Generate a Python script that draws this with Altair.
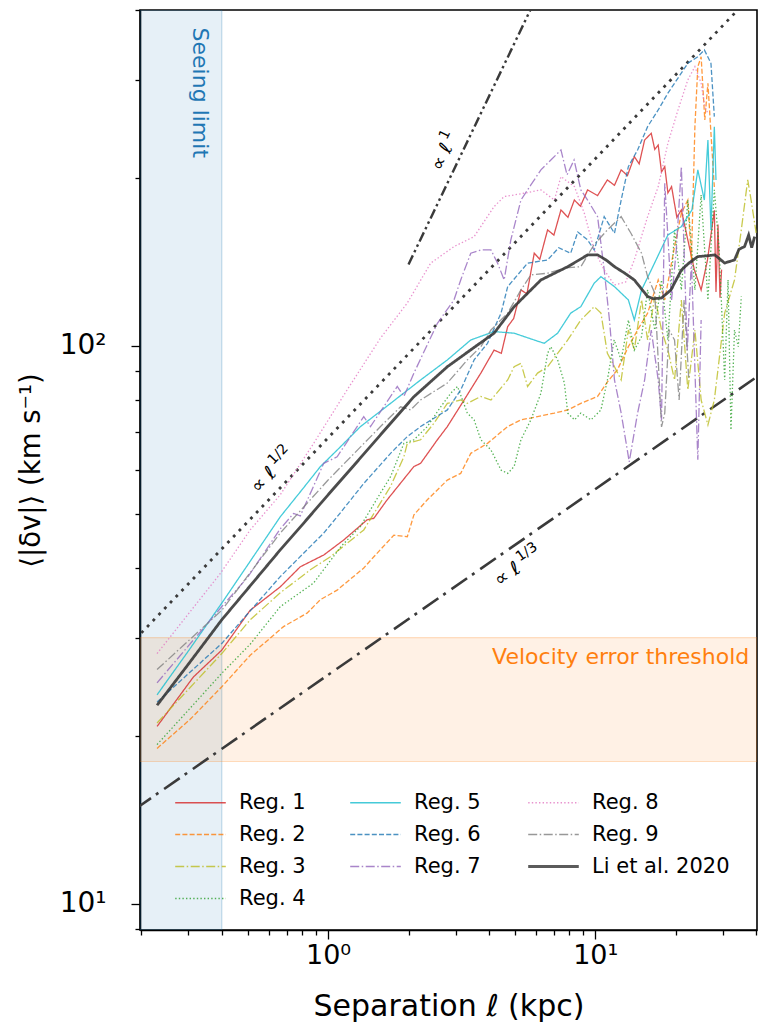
import altair as alt
import pandas as pd

# ---------------- axis ranges / ticks ----------------
X_DOMAIN = [0.1977, 40.3]
Y_DOMAIN = [8.98, 400.0]
X_TICKS = [0.2, 0.3, 0.4, 0.5, 0.6, 0.7, 0.8, 0.9, 1, 2, 3, 4, 5, 6, 7, 8, 9, 10, 20, 30, 40]
Y_TICKS = [9, 10, 20, 30, 40, 50, 60, 70, 80, 90, 100, 200, 300, 400]

# ---------------- series (separation kpc, <|dv|> km/s) ----------------
REG1_X = [0.229, 0.313, 0.4, 0.511, 0.662, 0.787, 0.963, 1.144, 1.4, 1.483, 1.664, 2.095, 2.219, 2.565, 2.795,
          3.228, 3.73, 4.18, 4.45, 4.7, 4.95, 5.27, 5.55, 5.91, 6.2, 6.63, 7.0, 7.44, 7.9, 8.35, 8.8, 9.36, 10.2,
          11.1, 11.8, 12.5, 13.2, 14.0, 14.6, 15.3, 16.2, 16.7, 17.2, 17.7, 18.2, 18.7, 19.3, 20.2, 21.0, 22.2,
          23.5, 24.9, 26.3, 27.9, 28.3, 28.8, 29.3, 29.7]
REG1_Y = [20.8, 25.5, 28.5, 33.6, 37.0, 40.2, 42.2, 44.9, 48.8, 49.1, 53.0, 60.8, 61.6, 67.9, 71.7,
          80.0, 89.4, 98.3, 97.0, 108.3, 112.0, 126.0, 124.0, 146.6, 143.0, 161.4, 158.0, 175.3, 170.0, 182.6, 178.0, 190.4, 186.0,
          198.4, 194.0, 206.8, 202.0, 218.4, 212.0, 233.9, 240.5, 225.0, 229.1, 205.0, 209.6, 188.0, 193.0, 170.0, 175.3, 154.9,
          136.8, 126.0, 142.6, 175.0, 125.0, 165.0, 122.0, 137.0]

REG2_X = [0.229, 0.304, 0.4, 0.511, 0.681, 0.834, 0.936, 1.081, 1.36, 1.483, 1.763, 1.979, 2.095, 2.352, 2.795,
          3.136, 3.42, 3.95, 4.7, 5.27, 6.08, 7.03, 7.89, 8.83, 10.2, 11.1, 12.1, 13.3, 14.4, 15.7, 17.2, 18.2,
          19.8, 21.0, 22.2, 22.9, 23.6, 24.2, 24.9, 25.7, 26.4, 27.1, 27.9]
REG2_Y = [19.0, 21.4, 24.5, 27.9, 31.4, 33.2, 35.1, 36.5, 40.0, 41.9, 45.8, 45.5, 49.8, 53.0, 57.5,
          59.1, 64.2, 66.9, 71.7, 73.7, 74.7, 75.8, 76.8, 78.9, 81.2, 86.2, 90.6, 99.7, 106.8, 114.5, 131.3, 120.9,
          150.7, 172.9, 182.6, 142.6, 247.2, 316.6, 329.9, 254.1, 295.6, 240.5, 192.7]

REG3_X = [0.229, 0.4, 0.511, 0.662, 0.858, 1.02, 1.36, 1.713, 1.922, 1.979, 2.219, 2.49, 2.795, 3.136, 3.32,
          3.73, 4.07, 4.7, 4.97, 5.27, 5.58, 6.08, 6.63, 7.23, 7.89, 8.83, 9.91, 10.5, 11.1, 11.8, 12.5, 13.3,
          14.0, 14.9, 15.7, 16.7, 17.7, 18.7, 19.8, 21.0, 22.2, 23.6, 24.9, 26.4, 27.9, 30.5, 33.2, 35.2, 37.2,
          38.3, 40.0]
REG3_Y = [21.1, 28.1, 32.3, 36.1, 39.7, 41.9, 46.8, 56.0, 63.3, 66.9, 67.9, 72.7, 78.9, 80.0, 78.9,
          81.2, 80.0, 86.9, 91.8, 93.1, 84.6, 89.4, 91.8, 97.0, 102.5, 111.3, 117.6, 114.5, 97.0, 91.8, 86.9, 106.8,
          98.3, 120.9, 102.5, 122.6, 106.8, 98.3, 86.9, 120.9, 83.4, 106.8, 80.0, 72.2, 80.0, 114.5, 131.3, 161.4, 198.4,
          182.6, 159.4]

REG4_X = [0.229, 0.4, 0.511, 0.662, 0.883, 1.117, 1.322, 1.571, 1.713, 1.922, 2.095, 2.352, 2.64, 2.88, 3.05,
          3.32, 3.52, 3.73, 4.07, 4.44, 4.7, 4.97, 5.27, 5.74, 6.26, 6.63, 6.82, 7.23, 7.66, 7.89, 8.36, 8.83,
          9.64, 10.5, 11.1, 11.77, 12.5, 13.3, 14.0, 14.9, 15.7, 16.7, 17.7, 18.7, 19.8, 21.0, 22.2, 23.6, 24.9,
          26.4, 27.9, 29.1, 30.5, 31.4, 32.2, 33.2, 34.3, 35.2]
REG4_Y = [19.3, 25.9, 29.2, 34.1, 37.6, 43.7, 47.5, 54.5, 58.3, 66.9, 67.9, 71.7, 77.8, 82.3, 84.6,
          75.8, 73.7, 67.9, 65.1, 59.9, 59.1, 60.8, 67.9, 73.7, 82.3, 97.0, 99.7, 94.4, 85.8, 75.8, 73.7, 75.8,
          73.7, 76.8, 86.9, 102.5, 94.4, 111.3, 98.3, 103.9, 126.0, 106.8, 131.3, 102.5, 161.4, 126.0, 182.6, 126.0, 186.5,
          120.9, 190.4, 148.6, 86.9, 131.3, 70.7, 106.8, 99.7, 122.6]

REG5_X = [0.229, 0.3, 0.4, 0.5, 0.662, 0.8, 0.936, 1.1, 1.322, 1.713, 2.219, 2.795, 3.42, 4.18, 4.97,
          5.9, 6.44, 7.23, 8.09, 8.83, 9.9, 10.5, 11.8, 13.3, 14.0, 14.9, 16.2, 18.7, 21.0, 23.0, 24.2, 25.6,
          26.4, 27.1, 27.9, 28.3]
REG5_Y = [23.7, 28.4, 34.6, 40.5, 49.4, 55.3, 60.8, 65.6, 71.7, 78.9, 86.9, 94.4, 102.5, 106.1, 105.4,
          102.5, 101.1, 105.4, 114.5, 117.6, 129.5, 133.1, 127.7, 120.9, 111.3, 126.0, 136.8, 158.1, 163.6, 175.3, 206.8, 182.6,
          233.9, 161.4, 247.0, 198.4]

REG6_X = [0.229, 0.4, 0.662, 0.963, 1.081, 1.36, 1.713, 1.979, 2.219, 2.795, 3.136, 3.52, 3.95, 4.44, 4.7,
          5.58, 6.63, 7.3, 8.09, 8.6, 9.36, 9.91, 10.8, 11.8, 12.5, 13.3, 14.4, 15.7, 17.2, 18.7, 20.4, 22.2,
          24.2, 25.6, 27.1, 27.9]
REG6_Y = [23.0, 29.3, 38.6, 46.2, 49.4, 56.7, 64.2, 68.8, 71.7, 76.8, 83.4, 94.4, 101.1, 114.5, 127.7,
          140.7, 142.6, 150.0, 146.6, 160.0, 154.9, 148.6, 170.5, 159.2, 182.6, 209.6, 224.5, 247.2, 264.8, 283.8, 302.1, 321.0,
          329.9, 339.3, 321.0, 257.6]

REG7_X = [0.229, 0.3, 0.4, 0.5, 0.662, 0.743, 0.787, 0.963, 1.081, 1.36, 1.441, 1.815, 1.922, 2.095, 2.565,
          2.96, 3.136, 3.42, 3.73, 4.07, 4.31, 4.56, 4.83, 5.27, 5.74, 6.26, 6.82, 7.44, 7.84, 8.33, 8.83, 9.36,
          10.2, 10.8, 11.3, 11.8, 12.5, 13.4, 14.4, 15.3, 16.2, 17.2, 17.7, 18.2, 19.3, 20.1, 21.0, 22.1, 22.9,
          24.2, 24.9]
REG7_Y = [24.9, 29.0, 34.1, 38.5, 47.0, 50.1, 49.6, 61.6, 63.3, 74.7, 71.7, 84.6, 81.2, 89.4, 109.8,
          120.9, 131.3, 146.6, 148.6, 148.6, 140.7, 131.3, 154.9, 182.6, 194.3, 206.8, 215.4, 224.5, 202.6, 215.4, 190.4, 182.6,
          170.5, 136.8, 111.3, 86.9, 75.8, 62.0, 75.8, 86.9, 106.8, 86.9, 73.7, 195.7, 120.9, 148.6, 209.6, 98.3, 142.6,
          62.5, 111.3]

REG8_X = [0.229, 0.395, 0.511, 0.662, 0.883, 1.178, 1.571, 1.979, 2.42, 2.96, 3.52, 4.18, 4.56, 5.42, 6.26,
          7.03, 7.44, 8.36, 9.1, 9.91, 10.8, 11.8, 13.0, 14.0, 15.7, 17.2, 18.7, 20.4, 22.2, 23.6, 24.9, 25.7, 26.4]
REG8_Y = [28.1, 39.1, 46.8, 54.1, 66.9, 83.4, 103.3, 119.4, 140.7, 150.7, 157.0, 177.7, 185.2, 187.8, 190.4,
          182.6, 201.1, 193.0, 172.9, 148.6, 136.8, 128.6, 130.2, 142.6, 170.5, 193.0, 230.8, 264.8, 299.7, 316.6, 295.6, 268.5, 261.2]

REG9_X = [0.229, 0.4, 0.662, 1.0, 1.571, 1.867, 2.036, 2.219, 2.795, 3.32, 3.73, 4.07, 4.70, 5.27, 5.74,
          6.63, 7.76, 8.83, 9.88, 11.1, 12.5, 13.6, 14.9, 15.7, 16.7, 17.2, 17.7, 18.2, 18.9, 19.8, 20.6, 21.5, 22.4]
REG9_Y = [26.3, 33.6, 46.2, 57.5, 71.7, 77.8, 76.8, 80.0, 85.8, 94.4, 99.7, 106.8, 114.5, 126.0, 134.1,
          135.0, 138.0, 138.7, 151.7, 161.4, 170.5, 159.2, 146.6, 133.1, 124.3, 94.4, 71.6, 75.8, 106.8, 102.5, 80.0, 120.9, 86.9]

LI_X = [0.229, 0.3, 0.4, 0.5, 0.662, 0.8, 1.0, 1.25, 1.571, 2.09, 2.796, 3.5, 4.18, 4.97, 5.6, 6.26, 7.0,
        7.89, 9.37, 10.2, 11.0, 11.8, 12.9, 14.0, 15.7, 16.5, 17.7, 19.2, 21.0, 22.5, 24.2, 26.0, 28.0, 30.5,
        33.2, 34.5, 36.2, 37.5, 38.5, 39.5]
LI_Y = [22.7, 26.9, 32.3, 36.7, 43.1, 47.8, 54.1, 61.1, 69.3, 81.0, 91.8, 99.2, 105.4, 117.6, 124.5, 131.3, 134.8,
        138.7, 145.6, 145.6, 142.5, 138.7, 135.0, 131.3, 122.6, 121.5, 121.9, 126.0, 136.8, 141.0, 144.6, 145.0, 145.6, 140.8,
        142.6, 149.0, 150.7, 158.0, 150.0, 157.0]

# guide power laws (end points, km/s)
HALF_X = [0.2, 40.0]
HALF_Y = [30.6, 433.0]
THIRD_X = [0.19, 42.0]
THIRD_Y = [14.8, 89.3]
ONE_X = [2.0, 6.0]
ONE_Y = [140.0, 420.0]

SEEING_LIMIT = 0.4
VEL_ERR = [18.0, 30.0]

NAMES = ["Reg. 1", "Reg. 2", "Reg. 3", "Reg. 4", "Reg. 5", "Reg. 6", "Reg. 7", "Reg. 8", "Reg. 9", "Li et al. 2020"]
# order that makes the 3-column legend show matplotlib's column-wise arrangement
LEGEND_ORDER = ["Reg. 1", "Reg. 2", "Reg. 3", "Li et al. 2020", "Reg. 5", "Reg. 6", "Reg. 7", "Reg. 4", "Reg. 8", "Reg. 9"]
COLORS = {"Reg. 1": "#d62728", "Reg. 2": "#ff7f0e", "Reg. 3": "#bcbd22", "Reg. 4": "#2ca02c", "Reg. 5": "#17becf",
          "Reg. 6": "#1f77b4", "Reg. 7": "#9467bd", "Reg. 8": "#e377c2", "Reg. 9": "#7f7f7f", "Li et al. 2020": "#333333"}
DASHES = {"Reg. 1": [1, 0], "Reg. 2": [5, 2.2], "Reg. 3": [9, 2.5, 1.5, 2.5], "Reg. 4": [1.4, 2.2],
          "Reg. 5": [1, 0], "Reg. 6": [5, 2.2], "Reg. 7": [9, 2.5, 1.5, 2.5], "Reg. 8": [1.4, 2.2],
          "Reg. 9": [9, 2.5, 1.5, 2.5], "Li et al. 2020": [1, 0]}

SERIES = [(NAMES[0], REG1_X, REG1_Y), (NAMES[1], REG2_X, REG2_Y), (NAMES[2], REG3_X, REG3_Y),
          (NAMES[3], REG4_X, REG4_Y), (NAMES[4], REG5_X, REG5_Y), (NAMES[5], REG6_X, REG6_Y),
          (NAMES[6], REG7_X, REG7_Y), (NAMES[7], REG8_X, REG8_Y), (NAMES[8], REG9_X, REG9_Y),
          (NAMES[9], LI_X, LI_Y)]

rows = []
for name, xs, ys in SERIES:
    for i, (xv, yv) in enumerate(zip(xs, ys)):
        rows.append({"series": name, "x": xv, "y": yv, "i": i})
df = pd.DataFrame(rows)
df_reg = df[df.series != "Li et al. 2020"]
df_li = df[df.series == "Li et al. 2020"]

FONT = "DejaVu Sans"
W, H = 617, 920

xscale = alt.Scale(type="log", domain=X_DOMAIN, nice=False)
yscale = alt.Scale(type="log", domain=Y_DOMAIN, nice=False)

xaxis = alt.Axis(
    title="Separation ℓ (kpc)", values=X_TICKS,
    labelExpr="datum.value == 1 ? '10⁰' : (datum.value == 10 ? '10¹' : '')",
    tickSize={"condition": {"test": "datum.value == 1 || datum.value == 10", "value": 9}, "value": 5},
    tickColor="black", tickWidth=1.3, domainColor="black", domainWidth=1.6, grid=False,
    labelFont=FONT, labelFontSize=27, labelColor="black", labelPadding=3, labelOverlap=False, labelFlush=False,
    titleFont=FONT, titleFontSize=30, titleFontWeight="normal", titleColor="black",
    titleBaseline="alphabetic", titleY=85)
yaxis = alt.Axis(
    title="⟨|δv|⟩ (km s⁻¹)", values=Y_TICKS,
    labelExpr="datum.value == 10 ? '10¹' : (datum.value == 100 ? '10²' : '')",
    tickSize={"condition": {"test": "datum.value == 10 || datum.value == 100", "value": 9}, "value": 5},
    tickColor="black", tickWidth=1.3, domainColor="black", domainWidth=1.6, grid=False,
    labelFont=FONT, labelFontSize=28, labelColor="black", labelPadding=25, labelOverlap=False, labelFlush=False,
    titleFont=FONT, titleFontSize=27.5, titleFontWeight="normal", titleColor="black",
    titleAngle=270, titleAlign="center", titleBaseline="middle", titleX=-109, titleY=H / 2)


def X(field="x"):
    return alt.X(f"{field}:Q", scale=xscale, axis=xaxis)


def Y(field="y"):
    return alt.Y(f"{field}:Q", scale=yscale, axis=yaxis)


leg = alt.Legend(title=None, orient="none", legendX=50, legendY=782, columns=3,
                 symbolType="M-3.3,0H3.3", symbolSize=235, labelFont=FONT, labelFontSize=21,
                 labelColor="black", labelOffset=28, columnPadding=41, rowPadding=10,
                 padding=0, labelLimit=0, symbolLimit=0, gridAlign="each",
                 symbolStrokeWidth={"expr": "datum.value === 'Li et al. 2020' ? 3 : 1.3"})

series_enc = dict(
    color=alt.Color("series:N", scale=alt.Scale(domain=LEGEND_ORDER, range=[COLORS[n] for n in LEGEND_ORDER]), legend=leg),
    strokeDash=alt.StrokeDash("series:N", scale=alt.Scale(domain=LEGEND_ORDER, range=[DASHES[n] for n in LEGEND_ORDER]), legend=leg),
    order=alt.Order("i:Q"),
)

# bands
band_seeing = pd.DataFrame({"x": [X_DOMAIN[0]], "x2": [SEEING_LIMIT], "y": [Y_DOMAIN[0]], "y2": [Y_DOMAIN[1]]})
band_vel = pd.DataFrame({"x": [X_DOMAIN[0]], "x2": [X_DOMAIN[1]], "y": [VEL_ERR[0]], "y2": [VEL_ERR[1]]})

seeing = alt.Chart(band_seeing).mark_rect(clip=True, fill="#1f77b4", fillOpacity=0.11, stroke="#1f77b4",
                                          strokeOpacity=0.25, strokeWidth=1.2).encode(
    x=X(), x2="x2:Q", y=Y(), y2="y2:Q")
vel = alt.Chart(band_vel).mark_rect(clip=True, fill="#ff7f0e", fillOpacity=0.11, stroke="#ff7f0e",
                                    strokeOpacity=0.25, strokeWidth=1.2).encode(
    x=X(), x2="x2:Q", y=Y(), y2="y2:Q")

regions = alt.Chart(df_reg).mark_line(clip=True, strokeWidth=1.3, opacity=0.8).encode(x=X(), y=Y(), **series_enc)
li = alt.Chart(df_li).mark_line(clip=True, strokeWidth=2.8, opacity=0.88).encode(x=X(), y=Y(), **series_enc)


def guide(xs, ys, dash, width):
    d = pd.DataFrame({"x": xs, "y": ys})
    return alt.Chart(d).mark_line(clip=True, color="#3a3a3a", strokeDash=dash, strokeWidth=width).encode(x=X(), y=Y())


g_half = guide(HALF_X, HALF_Y, [2.8, 5.5], 2.8)
g_third = guide(THIRD_X, THIRD_Y, [19, 6, 3, 7], 2.6)
g_one = guide(ONE_X, ONE_Y, [10, 3.5, 2.5, 3.5, 2.5, 3.5], 2.4)

# annotations
ANN_X = [0.3327, 37.7]
ANN_Y = [372.0, 27.7]


def text_layer(xv, yv, label, size, color, angle=0, align="left", baseline="alphabetic", dx=0, dy=0):
    d = pd.DataFrame({"x": [xv], "y": [yv], "t": [label]})
    return alt.Chart(d).mark_text(font=FONT, fontSize=size, color=color, angle=angle, align=align,
                                  baseline=baseline, dx=dx, dy=dy).encode(x=X(), y=Y(), text="t:N")


t_seeing = text_layer(ANN_X[0], ANN_Y[0], "Seeing limit", 22, "#1f77b4", angle=90, align="left", baseline="middle")
t_vel = text_layer(ANN_X[1], ANN_Y[1], "Velocity error threshold", 22, "#ff7f0e", align="right", baseline="middle")

LBL_POS = {"half": (0.548, 54.3, 313.8, "1/2"), "one": (2.655, 205.0, 295.6, "1"), "third": (4.377, 37.0, 325.2, "1/3")}
lbls = []
for key, (lx, ly, ang, sup) in LBL_POS.items():
    lbls.append(text_layer(lx, ly, "∝ ℓ", 19, "black", angle=ang))
    lbls.append(text_layer(lx, ly, sup, 14, "black", angle=ang, dx=31, dy=-9))

chart = alt.layer(seeing, vel, g_half, g_third, g_one, regions, li, t_seeing, t_vel, *lbls).properties(
    width=W, height=H,
    padding={"left": 140, "top": 10, "right": 1, "bottom": 99},
    autosize=alt.AutoSizeParams(type="none"),
).configure(font=FONT).configure_view(stroke="black", strokeWidth=1.6)

chart.save("out.html", embed_options={"renderer": "svg", "actions": False})
